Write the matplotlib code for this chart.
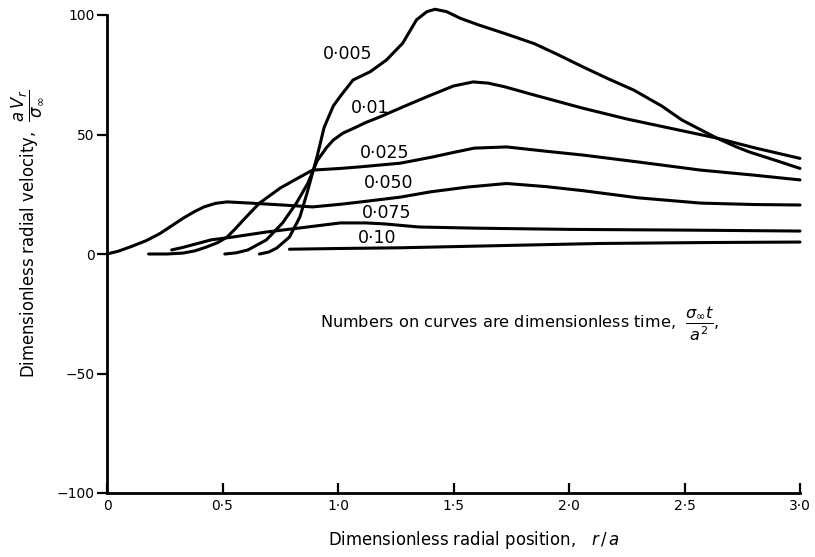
import matplotlib
matplotlib.use("Agg")
import matplotlib.pyplot as plt

# ---- data ----
x_005 = [0.66, 0.70, 0.735, 0.79, 0.835, 0.866, 0.89, 0.91, 0.94, 0.98, 1.01, 1.065, 1.14, 1.21, 1.28, 1.34, 1.385, 1.42, 1.47, 1.53, 1.61, 1.73, 1.85, 1.95, 2.06, 2.17, 2.28, 2.40, 2.49, 2.57, 2.64, 2.72, 2.78, 2.90, 3.00]
y_005 = [0.0, 0.8, 2.5, 7.1, 15.5, 25.5, 34.0, 41.0, 53.0, 62.0, 66.0, 72.8, 76.3, 81.2, 88.2, 98.0, 101.4, 102.4, 101.4, 98.6, 95.8, 92.0, 88.0, 83.5, 78.3, 73.3, 68.6, 62.0, 56.0, 52.0, 48.5, 45.0, 42.7, 39.0, 35.8]

x_01 = [0.51, 0.56, 0.61, 0.69, 0.76, 0.82, 0.87, 0.91, 0.95, 0.98, 1.02, 1.07, 1.12, 1.18, 1.28, 1.385, 1.50, 1.585, 1.65, 1.72, 1.85, 2.06, 2.25, 2.42, 2.64, 2.80, 3.00]
y_01 = [0.0, 0.5, 1.7, 5.9, 13.0, 21.3, 29.7, 39.0, 44.5, 47.7, 50.5, 52.7, 55.0, 57.3, 61.5, 65.8, 70.3, 72.0, 71.5, 70.0, 66.5, 61.0, 56.5, 53.0, 48.5, 44.5, 40.0]

x_025 = [0.18, 0.26, 0.33, 0.38, 0.43, 0.48, 0.52, 0.555, 0.59, 0.66, 0.75, 0.835, 0.89, 1.01, 1.10, 1.27, 1.41, 1.50, 1.59, 1.73, 1.90, 2.06, 2.30, 2.57, 2.80, 3.00]
y_025 = [0.0, 0.0, 0.4, 1.3, 2.9, 4.8, 7.1, 10.5, 14.2, 21.3, 27.6, 32.2, 35.1, 35.8, 36.5, 38.0, 40.6, 42.5, 44.3, 44.8, 43.0, 41.4, 38.5, 35.1, 33.0, 31.0]

x_050 = [0.0, 0.05, 0.11, 0.17, 0.23, 0.28, 0.33, 0.38, 0.42, 0.47, 0.52, 0.62, 0.76, 0.89, 1.01, 1.10, 1.27, 1.40, 1.56, 1.73, 1.90, 2.06, 2.30, 2.57, 2.80, 3.00]
y_050 = [0.0, 1.2, 3.3, 5.6, 8.6, 11.8, 15.0, 17.8, 19.7, 21.2, 21.8, 21.3, 20.5, 19.7, 20.8, 21.8, 23.8, 26.0, 28.0, 29.5, 28.2, 26.5, 23.5, 21.3, 20.7, 20.5]

x_075 = [0.28, 0.33, 0.40, 0.45, 0.545, 0.69, 0.835, 1.01, 1.12, 1.20, 1.35, 1.60, 2.00, 2.50, 3.00]
y_075 = [1.7, 2.8, 4.6, 5.9, 7.1, 9.2, 10.9, 13.0, 13.0, 12.6, 11.3, 10.8, 10.3, 10.0, 9.6]

x_10 = [0.79, 1.00, 1.27, 1.60, 2.13, 2.60, 3.00]
y_10 = [2.0, 2.3, 2.6, 3.3, 4.4, 4.8, 5.0]

curve_labels = ["0·005", "0·01", "0·025", "0·050", "0·075", "0·10"]
label_x = [1.043, 1.14, 1.20, 1.22, 1.21, 1.17]
label_y = [83.7, 61, 42.3, 29.7, 17.2, 6.7]

xticks = [0, 0.5, 1.0, 1.5, 2.0, 2.5, 3.0]
xtick_labels = ["0", "0·5", "1·0", "1·5", "2·0", "2·5", "3·0"]
yticks = [-100, -50, 0, 50, 100]
ytick_labels = ["−100", "−50", "0", "50", "100"]

# ---- figure ----
fig = plt.figure(figsize=(8.15, 5.57), dpi=100)
ax = fig.add_axes([107/815, 1-493/557, 693/815, 478/557])

series = [(x_005, y_005), (x_01, y_01), (x_025, y_025), (x_050, y_050), (x_075, y_075), (x_10, y_10)]
for xs, ys in series:
    ax.plot(xs, ys, color="black", lw=2.2, solid_capstyle="round",
            solid_joinstyle="round", clip_on=False)

for t, lx, ly in zip(curve_labels, label_x, label_y):
    ax.text(lx, ly, t, ha="center", va="center", fontsize=12.5)

ax.set_xlim(0, 3.0)
ax.set_ylim(-100, 100)
ax.set_xticks(xticks)
ax.set_xticklabels(xtick_labels)
ax.set_yticks(yticks)
ax.set_yticklabels(ytick_labels)
ax.tick_params(axis="x", direction="in", length=7, width=1.6, labelsize=10, pad=4)
ax.tick_params(axis="y", direction="out", length=7, width=1.6, labelsize=10, pad=2)
for s in ["top", "right"]:
    ax.spines[s].set_visible(False)
for s in ["left", "bottom"]:
    ax.spines[s].set_linewidth(2.0)

ax.text(0.92, -29, r"Numbers on curves are dimensionless time,  $\dfrac{\sigma_\infty t}{a^2}$,",
        ha="left", va="center", fontsize=11.6)

ax.set_xlabel(r"Dimensionless radial position,   $r\,/\,a$", fontsize=11.9)
ax.xaxis.set_label_coords(0.53, -0.075)
ax.set_ylabel(r"Dimensionless radial velocity,  $\dfrac{a\,V_r}{\sigma_\infty}$", fontsize=11.9)
ax.yaxis.set_label_coords(-0.09, 0.542)

fig.savefig("out.png", dpi=100)
